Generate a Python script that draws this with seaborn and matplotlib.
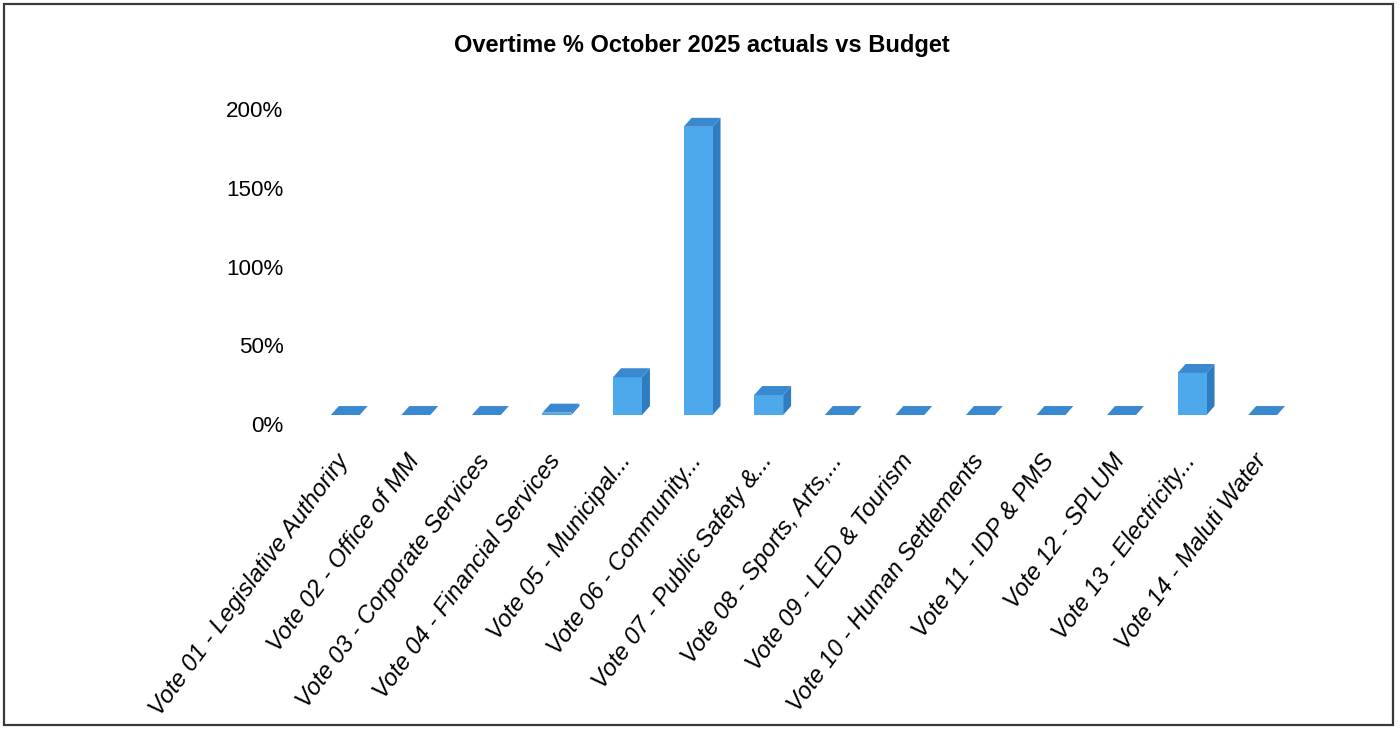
import matplotlib
matplotlib.use("Agg")
import matplotlib.pyplot as plt
import matplotlib.transforms as mtransforms
from matplotlib.patches import Polygon, Rectangle
from matplotlib import font_manager
import seaborn as sns
import pandas as pd

# Overtime spend as % of budget, per vote
votes = [
    "Vote 01 - Legislative Authoriry",
    "Vote 02 - Office of MM",
    "Vote 03 - Corporate Services",
    "Vote 04 - Financial Services",
    "Vote 05 - Municipal...",
    "Vote 06 - Community...",
    "Vote 07 - Public Safety &...",
    "Vote 08 - Sports, Arts,...",
    "Vote 09 - LED & Tourism",
    "Vote 10 - Human Settlements",
    "Vote 11 - IDP & PMS",
    "Vote 12 - SPLUM",
    "Vote 13 - Electricity...",
    "Vote 14 - Maluti Water",
]
overtime_pct = [0, 0, 0, 1.5, 24, 183, 12.7, 0, 0, 0, 0, 0, 26.7, 0]
y_ticks = [0, 50, 100, 150, 200]
y_tick_labels = ["0%", "50%", "100%", "150%", "200%"]
title = "Overtime % October 2025 actuals vs Budget"

sns.set_theme(style="white")

installed = {f.name for f in font_manager.fontManager.ttflist}
narrow = "Liberation Sans Narrow" if "Liberation Sans Narrow" in installed else "Liberation Sans"
narrow_scale = 1.0 if narrow == "Liberation Sans Narrow" else 0.85
plt.rcParams["font.family"] = ["Liberation Sans", "DejaVu Sans"]

FRONT = "#4da8ec"
SIDE = "#2f7cc0"
TOP = "#3a88cf"

fig = plt.figure(figsize=(14, 7.29), dpi=100)
ax = fig.add_axes([0.2214, 0.4307, 0.7057, 0.4321])

df = pd.DataFrame({"vote": votes, "pct": overtime_pct})
sns.barplot(data=df, x="vote", y="pct", color=FRONT, saturation=1,
            width=0.41, ax=ax, linewidth=0, zorder=3)

# extrude each column into a pseudo-3D box
depth_x = 0.113
depth_y = 5.7
for bar in list(ax.patches):
    x0 = bar.get_x()
    x1 = x0 + bar.get_width()
    h = bar.get_height()
    side = Polygon([(x1, 0), (x1 + depth_x, depth_y), (x1 + depth_x, h + depth_y), (x1, h)],
                   closed=True, facecolor=SIDE, edgecolor="none", zorder=2, clip_on=False)
    top = Polygon([(x0, h), (x1, h), (x1 + depth_x, h + depth_y), (x0 + depth_x, h + depth_y)],
                  closed=True, facecolor=TOP, edgecolor="none", zorder=4, clip_on=False)
    ax.add_patch(side)
    ax.add_patch(top)
    bar.set_clip_on(False)

ax.set_xlim(-0.5, len(votes) - 0.5)
ax.set_ylim(0, 200)
ax.set_xlabel("")
ax.set_ylabel("")
for s in ax.spines.values():
    s.set_visible(False)
ax.grid(False)

ax.set_yticks(y_ticks)
ax.set_yticklabels(y_tick_labels, fontsize=19 * narrow_scale, family=[narrow, "DejaVu Sans"],
                   color="black")
ax.tick_params(axis="y", length=0, pad=19)
ylab_shift = mtransforms.ScaledTranslation(0, -9 / 100, fig.dpi_scale_trans)
for lab in ax.get_yticklabels():
    lab.set_transform(lab.get_transform() + ylab_shift)

ax.set_xticks(range(len(votes)))
ax.set_xticklabels(votes, rotation=53.5, ha="right", va="center", rotation_mode="anchor",
                   fontsize=17.3, style="italic", color="black")
ax.tick_params(axis="x", length=0, pad=30)
xlab_shift = mtransforms.ScaledTranslation(-1 / 100, 0, fig.dpi_scale_trans)
for lab in ax.get_xticklabels():
    lab.set_transform(lab.get_transform() + xlab_shift)

fig.text(0.5014, 0.938, title, ha="center", va="center", fontsize=20 * narrow_scale,
         fontweight="bold", family=[narrow, "DejaVu Sans"], color="black")

# chart frame
fig.patches.append(Rectangle((4 / 1400, 4 / 729), 1389 / 1400, 721 / 729,
                             transform=fig.transFigure, fill=False,
                             edgecolor="#3a3a3a", linewidth=1.6))

fig.savefig("out.png", dpi=100, facecolor="white")
